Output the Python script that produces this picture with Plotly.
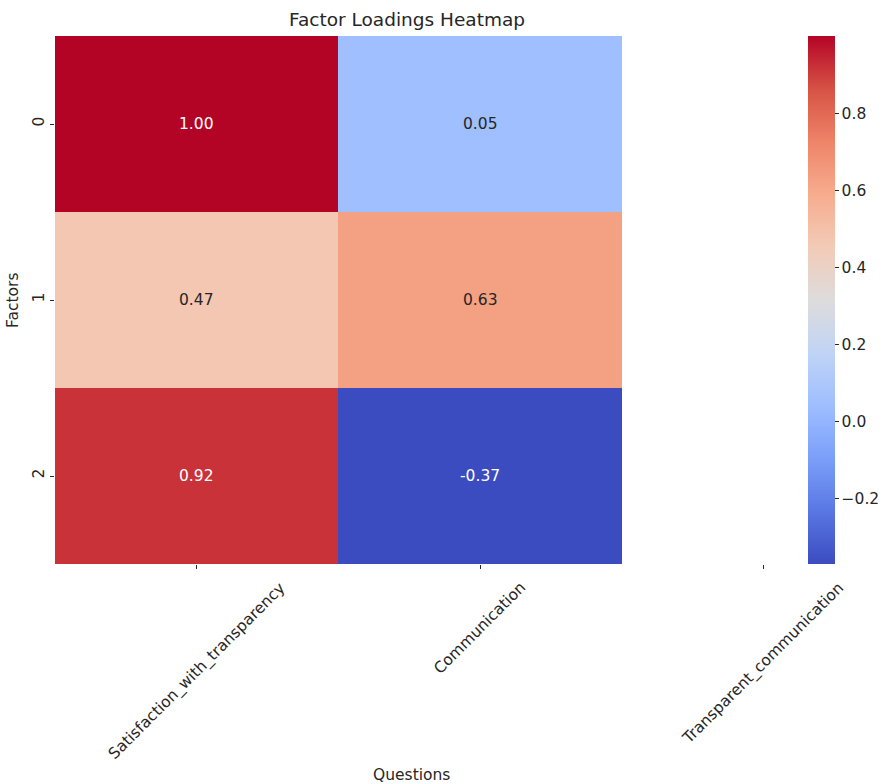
import plotly.graph_objects as go

# Factor loadings: rows are factors, columns are questions (last column has no loadings)
questions = ["Satisfaction_with_transparency", "Communication", "Transparent_communication"]
factors = ["0", "1", "2"]
loadings_q1 = [1.00, 0.47, 0.92]
loadings_q2 = [0.05, 0.63, -0.37]
loadings_q3 = [None, None, None]

z = [[loadings_q1[i], loadings_q2[i], loadings_q3[i]] for i in range(len(factors))]

W, H = 883, 784
FONT = "DejaVu Sans"
TXT = "#262626"
FS = 15.5

# coolwarm colormap stops
coolwarm = [
    [0.0, "#3b4cc0"], [0.1, "#5977e3"], [0.2, "#7b9ff9"], [0.3, "#9ebeff"],
    [0.4, "#c0d4f5"], [0.5, "#dddcdc"], [0.6, "#f2cbb7"], [0.7, "#f7ac8e"],
    [0.8, "#ee8468"], [0.9, "#d65244"], [1.0, "#b40426"],
]

zmin, zmax = -0.37, 1.00

# plot-area geometry in pixels
left, right = 55, 883
top, bottom = 36, 564
col_w = 283.33


def px_x(p):
    return p / W


def px_y(p):
    return (H - p) / H


fig = go.Figure()
fig.add_trace(go.Heatmap(
    z=z,
    x=list(range(len(questions))),
    y=list(range(len(factors))),
    colorscale=coolwarm,
    zmin=zmin, zmax=zmax,
    hoverongaps=False,
    colorbar=dict(
        x=px_x(808), xanchor="left",
        y=px_y(top), yanchor="top",
        len=(bottom - top) / H, lenmode="fraction",
        thickness=27, thicknessmode="pixels",
        xpad=0, ypad=0,
        outlinewidth=0,
        tickmode="array",
        tickvals=[-0.2, 0.0, 0.2, 0.4, 0.6, 0.8],
        ticktext=["\u22120.2", "0.0", "0.2", "0.4", "0.6", "0.8"],
        ticks="outside", ticklen=4, tickcolor=TXT,
        tickfont=dict(family=FONT, size=FS, color=TXT),
    ),
))

annotations = []
# cell value labels
for i, f in enumerate(factors):
    for j in range(len(questions)):
        v = z[i][j]
        if v is None:
            continue
        color = "white" if (v > 0.75 or v < -0.1) else TXT
        annotations.append(dict(
            x=j, y=i, xref="x", yref="y", text=f"{v:.2f}",
            showarrow=False, font=dict(family=FONT, size=FS, color=color),
        ))

# rotated question labels
for j, q in enumerate(questions):
    annotations.append(dict(
        x=j, y=px_y(576), xref="x", yref="paper", text=q,
        textangle=-45, xanchor="center", yanchor="top",
        showarrow=False, font=dict(family=FONT, size=FS, color=TXT),
    ))

annotations.append(dict(
    x=px_x(411), y=px_y(775), xref="paper", yref="paper", text="Questions",
    showarrow=False, font=dict(family=FONT, size=FS, color=TXT),
    xanchor="center", yanchor="middle",
))
annotations.append(dict(
    x=px_x(13), y=px_y(300), xref="paper", yref="paper", text="Factors",
    textangle=-90, showarrow=False,
    font=dict(family=FONT, size=FS, color=TXT),
    xanchor="center", yanchor="middle",
))
annotations.append(dict(
    x=px_x(407), y=px_y(19), xref="paper", yref="paper",
    text="Factor Loadings Heatmap", showarrow=False,
    font=dict(family=FONT, size=18.5, color=TXT),
    xanchor="center", yanchor="middle",
))

visible_cols = (right - left) / col_w

fig.update_layout(
    width=W, height=H,
    margin=dict(l=0, r=0, t=0, b=0, autoexpand=False),
    paper_bgcolor="white", plot_bgcolor="white",
    showlegend=False,
    annotations=annotations,
    xaxis=dict(
        domain=[px_x(left), 1.0],
        range=[-0.5, -0.5 + visible_cols],
        tickmode="array", tickvals=[0, 1, 2],
        showticklabels=False,
        ticks="outside", ticklen=4, tickcolor=TXT,
        showgrid=False, zeroline=False, showline=False,
    ),
    yaxis=dict(
        domain=[px_y(bottom), px_y(top)],
        range=[2.5, -0.5],
        tickmode="array", tickvals=[0, 1, 2], ticktext=factors,
        tickangle=-90,
        ticks="outside", ticklen=4, tickcolor=TXT,
        tickfont=dict(family=FONT, size=FS, color=TXT),
        showgrid=False, zeroline=False, showline=False,
    ),
)

fig.write_html("out.html")
